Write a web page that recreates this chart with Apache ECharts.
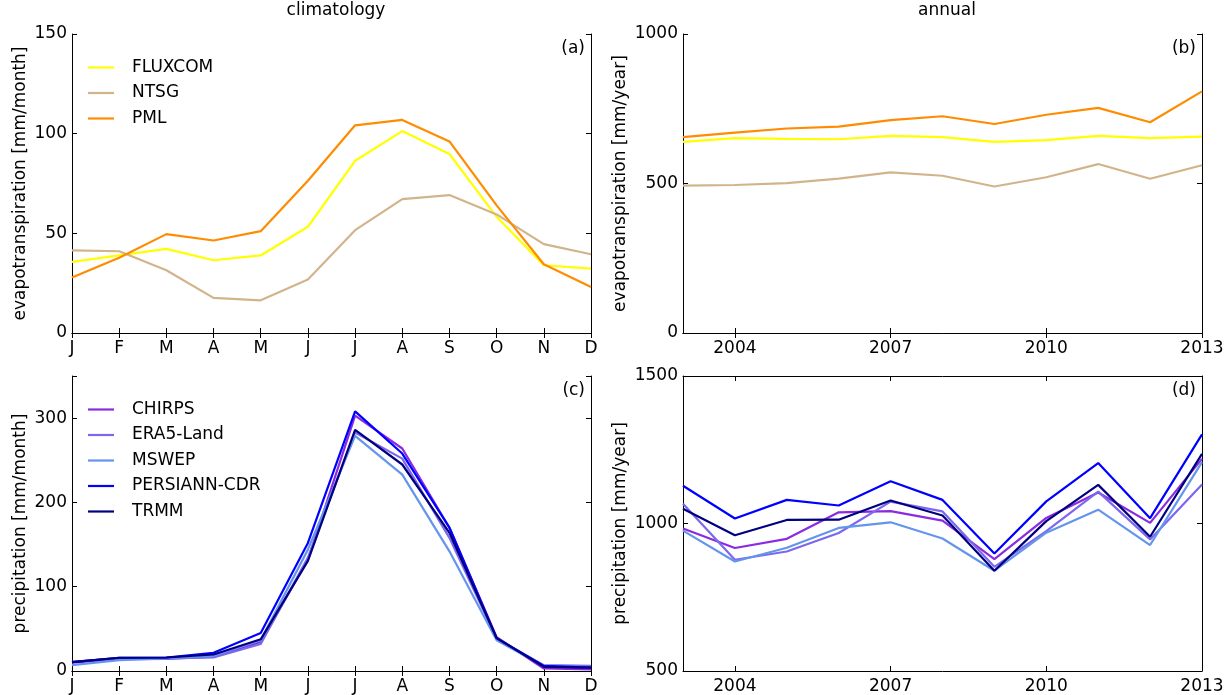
<!DOCTYPE html>
<html>
<head>
<meta charset="utf-8">
<script src="https://cdn.jsdelivr.net/npm/echarts@6/dist/echarts.min.js"></script>
<style>
  html, body { margin: 0; padding: 0; background: #fff; }
  #chart { width: 1231px; height: 695px; }
</style>
</head>
<body>
<div id="chart"></div>
<script>
// categories
const months = ['J', 'F', 'M', 'A', 'M', 'J', 'J', 'A', 'S', 'O', 'N', 'D'];
const years = ['2003', '2004', '2005', '2006', '2007', '2008', '2009', '2010', '2011', '2012', '2013'];

// (a) evapotranspiration climatology [mm/month]
const etNames = ['FLUXCOM', 'NTSG', 'PML'];
const etColors = ['#ffff00', '#d2b48c', '#ff8c00'];
const fluxcomMonthly = [35.7, 38.9, 42.2, 36.5, 38.9, 53.3, 86.4, 101.3, 89.8, 58.3, 34.0, 32.3];
const ntsgMonthly = [41.5, 41.0, 31.5, 17.6, 16.4, 26.8, 51.6, 67.2, 69.2, 59.5, 44.6, 39.5];
const pmlMonthly = [27.8, 37.7, 49.6, 46.4, 51.1, 76.4, 104.2, 106.9, 96.1, 64.0, 34.5, 23.1];

// (b) evapotranspiration annual [mm/year]
const fluxcomAnnual = [639, 652, 649, 648, 659, 655, 639, 645, 659, 652, 657];
const ntsgAnnual = [493, 495, 501, 516, 537, 526, 490, 521, 565, 516, 561];
const pmlAnnual = [655, 670, 684, 690, 712, 725, 699, 730, 753, 705, 808];

// (c) precipitation climatology [mm/month]
const prNames = ['CHIRPS', 'ERA5-Land', 'MSWEP', 'PERSIANN-CDR', 'TRMM'];
const prColors = ['#8a2be2', '#7b68ee', '#6495ed', '#0000ff', '#000080'];
const chirpsMonthly = [9.8, 14, 14.5, 17, 34.5, 132, 303, 264, 170, 40, 3, 2];
const era5Monthly = [11, 15, 15, 16, 32, 134.5, 283, 252, 158, 38.4, 7, 6];
const mswepMonthly = [7, 13, 15, 18, 36.5, 144, 279, 233, 142, 36.5, 6, 4.5];
const persiannMonthly = [10.6, 15.7, 16, 21.6, 45, 152, 308, 258, 170, 39, 6, 4];
const trmmMonthly = [10.6, 15.7, 16, 19.6, 37.6, 130.6, 286, 245, 164, 39, 5, 4];

// (d) precipitation annual [mm/year]
const chirpsAnnual = [983, 917, 948, 1038, 1042, 1010, 879, 1019, 1105, 1002, 1219];
const era5Annual = [1067, 877, 905, 968, 1074, 1041, 853, 974, 1108, 946, 1132];
const mswepAnnual = [976, 871, 918, 985, 1004, 949, 840, 969, 1047, 927, 1208];
const persiannAnnual = [1128, 1017, 1080, 1061, 1143, 1080, 898, 1075, 1205, 1018, 1302];
const trmmAnnual = [1050, 960, 1012, 1013, 1078, 1027, 840, 1008, 1131, 955, 1236];

const FONT = 'DejaVu Sans';
const FS = 17;
const yearTick = (i) => (i - 1) % 3 === 0;

const grids = [
    { left: 72, top: 34, width: 519, height: 299 },
    { left: 683, top: 34, width: 519, height: 299 },
    { left: 72, top: 376, width: 519, height: 297 },
    { left: 683, top: 376, width: 519, height: 297 }
];

function xAx(gridIndex, data, position, yearly) {
    return {
        type: 'category', gridIndex, position, data, boundaryGap: false,
        axisLine: { show: true, lineStyle: { color: '#000', width: 1 } },
        axisTick: { show: true, inside: true, length: 5, alignWithLabel: true,
                    interval: yearly ? yearTick : 0, lineStyle: { color: '#000' } },
        axisLabel: { show: position === 'bottom', interval: yearly ? yearTick : 0,
                     color: '#000', fontFamily: FONT, fontSize: FS, margin: 7 },
        splitLine: { show: false }
    };
}

function yAx(gridIndex, min, max, interval, position, name, nameGap) {
    return {
        type: 'value', gridIndex, position, min, max, interval,
        name: position === 'left' ? name : '', nameLocation: 'middle', nameGap,
        nameTextStyle: { color: '#000', fontFamily: FONT, fontSize: FS },
        axisLine: { show: true, lineStyle: { color: '#000', width: 1 } },
        axisTick: { show: true, inside: true, length: 5, lineStyle: { color: '#000' } },
        axisLabel: { show: position === 'left', color: '#000', fontFamily: FONT, fontSize: FS, margin: 5,
                     formatter: (v) => (v % interval === 0 ? String(v) : '') },
        splitLine: { show: false }
    };
}

function line(name, data, color, idx) {
    return {
        name, type: 'line', data, xAxisIndex: idx * 2, yAxisIndex: idx * 2,
        symbol: 'none', animation: false,
        lineStyle: { color, width: 2.2 }, itemStyle: { color }
    };
}

const chart = echarts.init(document.getElementById('chart'));
chart.setOption({
    backgroundColor: '#fff',
    animation: false,
    title: [
        { text: 'climatology', left: 331, top: -3, textAlign: 'center' },
        { text: 'annual', left: 942, top: -3, textAlign: 'center' },
        { text: '(a)', left: 580, top: 35, textAlign: 'right' },
        { text: '(b)', left: 1191, top: 35, textAlign: 'right' },
        { text: '(c)', left: 580, top: 377, textAlign: 'right' },
        { text: '(d)', left: 1191, top: 377, textAlign: 'right' }
    ].map(t => Object.assign(t, {
        textStyle: { color: '#000', fontFamily: FONT, fontSize: FS, fontWeight: 'normal' }
    })),
    legend: [
        { data: etNames, left: 83, top: 54 },
        { data: prNames, left: 83, top: 396 }
    ].map(l => Object.assign(l, {
        orient: 'vertical', itemWidth: 26, itemHeight: 2.2, itemGap: 8.5,
        icon: 'rect', selectedMode: false,
        textStyle: { color: '#000', fontFamily: FONT, fontSize: FS, padding: [0, 0, 0, 13] }
    })),
    grid: grids,
    xAxis: [
        xAx(0, months, 'bottom', false), xAx(0, months, 'top', false),
        xAx(1, years, 'bottom', true), xAx(1, years, 'top', true),
        xAx(2, months, 'bottom', false), xAx(2, months, 'top', false),
        xAx(3, years, 'bottom', true), xAx(3, years, 'top', true)
    ],
    yAxis: [
        yAx(0, 0, 150, 50, 'left', 'evapotranspiration [mm/month]', 43), yAx(0, 0, 150, 50, 'right'),
        yAx(1, 0, 1000, 500, 'left', 'evapotranspiration [mm/year]', 54), yAx(1, 0, 1000, 500, 'right'),
        yAx(2, 0, 350, 100, 'left', 'precipitation [mm/month]', 43), yAx(2, 0, 350, 100, 'right'),
        yAx(3, 500, 1500, 500, 'left', 'precipitation [mm/year]', 54), yAx(3, 500, 1500, 500, 'right')
    ],
    series: [
        line('FLUXCOM', fluxcomMonthly, etColors[0], 0),
        line('NTSG', ntsgMonthly, etColors[1], 0),
        line('PML', pmlMonthly, etColors[2], 0),
        line('FLUXCOM', fluxcomAnnual, etColors[0], 1),
        line('NTSG', ntsgAnnual, etColors[1], 1),
        line('PML', pmlAnnual, etColors[2], 1),
        line('CHIRPS', chirpsMonthly, prColors[0], 2),
        line('ERA5-Land', era5Monthly, prColors[1], 2),
        line('MSWEP', mswepMonthly, prColors[2], 2),
        line('PERSIANN-CDR', persiannMonthly, prColors[3], 2),
        line('TRMM', trmmMonthly, prColors[4], 2),
        line('CHIRPS', chirpsAnnual, prColors[0], 3),
        line('ERA5-Land', era5Annual, prColors[1], 3),
        line('MSWEP', mswepAnnual, prColors[2], 3),
        line('PERSIANN-CDR', persiannAnnual, prColors[3], 3),
        line('TRMM', trmmAnnual, prColors[4], 3)
    ]
});
window.addEventListener('resize', () => chart.resize());
</script>
</body>
</html>
